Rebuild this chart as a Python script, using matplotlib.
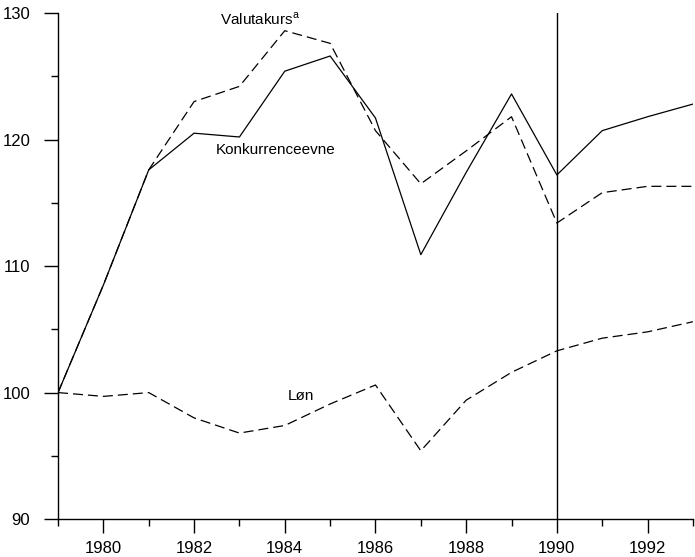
import matplotlib.pyplot as plt
from matplotlib.ticker import MultipleLocator

plt.rcParams['font.family'] = ['Liberation Sans', 'DejaVu Sans']

years = [1979, 1980, 1981, 1982, 1983, 1984, 1985, 1986, 1987, 1988, 1989, 1990, 1991, 1992, 1993]
konkurrenceevne = [100.0, 108.5, 117.6, 120.5, 120.2, 125.4, 126.6, 121.7, 110.9, 117.4, 123.6, 117.2, 120.7, 121.8, 122.8]
valutakurs = [100.0, 108.5, 117.6, 123.0, 124.2, 128.6, 127.6, 120.7, 116.5, 119.1, 121.8, 113.4, 115.8, 116.3, 116.3]
loen = [100.0, 99.7, 100.0, 98.0, 96.8, 97.4, 99.1, 100.6, 95.4, 99.4, 101.6, 103.3, 104.3, 104.8, 105.6]

fig = plt.figure(figsize=(6.95, 5.57), dpi=100)
ax = fig.add_axes([0.0835, 0.068, 0.9135, 0.9087])

dash = (0, (8, 4))
ax.plot(years, konkurrenceevne, color='black', lw=0.9)
ax.plot(years, valutakurs, color='black', lw=0.9, linestyle=dash)
ax.plot(years, loen, color='black', lw=0.9, linestyle=dash)
ax.axvline(1990, color='black', lw=1.0)

# labels on the lines
ax.text(1983.45, 129.5, 'Valutakurs$^\\mathregular{a}$', fontsize=11, ha='center', va='center')
ax.text(1983.8, 119.2, 'Konkurrenceevne', fontsize=11, ha='center', va='center')
ax.text(1984.35, 99.7, 'Løn', fontsize=11, ha='center', va='center')

ax.set_xlim(1979, 1993)
ax.set_ylim(90, 130)
ax.xaxis.set_minor_locator(MultipleLocator(1))
ax.yaxis.set_major_locator(MultipleLocator(10))
ax.yaxis.set_minor_locator(MultipleLocator(5))
ax.set_xticks(range(1980, 1993, 2))
ax.tick_params(which='major', length=10, width=1, labelsize=12)
ax.tick_params(which='minor', length=5, width=1)
ax.tick_params(axis='x', which='major', pad=6)
ax.tick_params(axis='y', which='major', pad=10)

for s in ['top', 'right']:
    ax.spines[s].set_visible(False)
for s in ['left', 'bottom']:
    ax.spines[s].set_linewidth(1.0)

fig.savefig('out.png', dpi=100)
